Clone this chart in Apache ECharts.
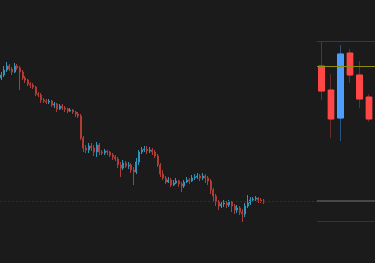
<!DOCTYPE html>
<html>
<head>
<meta charset="utf-8">
<script src="https://cdn.jsdelivr.net/npm/echarts@6/dist/echarts.min.js"></script>
<style>
html,body{margin:0;padding:0;background:#1b1b1b;}
#chart{width:375px;height:263px;}
</style>
</head>
<body>
<div id="chart"></div>
<script>
// Left overview candles: [open, close, lowest, highest]
var leftOHLC = [
[222,225,220,228],[225,230,223,234],[230,234,228,238],[234,231,229,236],[231,228,225,233],
[228,234,227,237],[234,232,230,236],[232,228,210,234],[228,222,220,230],[222,220,217,224],
[220,216,214,221],[216,215,212,218],[215,213,211,217],[213,206,204,214],[206,205,203,208],
[205,200,197,207],[200,199,197,202],[199,198,196,201],[198,199,196,201],[199,195,193,200],
[195,196,192,198],[196,191,188,197],[191,194,190,196],[194,192,190,196],[192,191,188,194],
[191,189,187,192],[189,190,188,192],[190,188,186,191],[188,186,183,189],[186,184,182,188],
[184,162,160,186],[162,152,148,164],[152,150,147,155],[150,154,147,157],[154,152,149,157],
[152,148,144,155],[148,155,143,158],[155,148,145,157],[148,147,145,150],[147,149,145,151],
[149,148,145,150],[148,145,143,149],[145,143,140,147],[143,141,139,145],[141,135,132,143],
[135,132,123,138],[132,137,130,140],[137,134,132,139],[134,135,131,138],[135,130,127,137],
[130,128,115,133],[128,138,126,142],[138,148,135,150],[148,150,146,153],[150,151,148,154],
[151,149,146,154],[149,150,147,153],[150,148,145,152],[148,144,142,150],[144,135,133,146],
[135,126,123,137],[126,122,120,130],[122,118,116,124],[118,120,117,123],[120,115,113,122],
[115,117,114,120],[117,119,116,122],[119,116,113,120],[116,114,108,118],[114,118,112,120],
[118,120,117,123],[120,119,116,122],[119,122,118,125],[122,123,120,126],[123,124,121,127],
[124,122,119,126],[122,124,120,127],[124,122,117,126],[122,119,115,124],[119,110,106,121],
[110,104,98,112],[104,98,94,106],[98,94,90,100],[94,96,92,99],[96,97,93,100],
[97,95,92,99],[95,98,93,100],[98,94,88,99],[94,90,86,96],[90,92,87,95],
[92,88,85,94],[88,86,78,91],[86,94,83,97],[94,97,92,105],[97,100,95,103],
[100,101,98,103],[101,102,99,104],[102,100,97,103],[100,99,97,102],[99,98,96,101]
];
var leftSlots = 120;
var leftRefLevel = 99;

// Right zoomed candles: [open, close, lowest, highest]
var rightOHLC = [
[97.5,95.0,94.1,100.0],
[95.1,92.2,90.3,96.7],
[92.3,98.7,90.0,99.6],
[98.8,96.6,95.8,99.2],
[96.6,94.2,93.3,98.0],
[94.4,92.2,91.9,94.7],
[92.1,87.6,86.5,92.2]
];
var rightTopLevel = 100;
var rightLastPrice = 97.5;
var rightLevelA = 84;
var rightLevelB = 82;

var leftCats = [];
for (var i = 0; i < leftSlots; i++) leftCats.push(i);
var rightCats = rightOHLC.map(function(d, i){ return i; });
var rightBodies = rightOHLC.map(function(d){ return [d[0], d[1], Math.min(d[0], d[1]), Math.max(d[0], d[1])]; });

var chart = echarts.init(document.getElementById('chart'), null, {renderer:'canvas'});
chart.setOption({
  backgroundColor: '#1b1b1b',
  animation: false,
  grid: [
    {left: 0, top: 0, width: 318, height: 263, outerBoundsMode: 'none', containLabel: false},
    {left: 317, top: 41, right: -8, height: 180, outerBoundsMode: 'none', containLabel: false}
  ],
  xAxis: [
    {type:'category', gridIndex:0, data:leftCats, show:false, boundaryGap:true},
    {type:'category', gridIndex:1, data:rightCats, show:false, boundaryGap:true}
  ],
  yAxis: [
    {type:'value', gridIndex:0, min:37, max:300, show:false, splitLine:{show:false}},
    {type:'value', gridIndex:1, min:82, max:100, show:false, splitLine:{show:false}}
  ],
  series: [
    {
      type:'candlestick', xAxisIndex:0, yAxisIndex:0, data:leftOHLC,
      barWidth: 1.5,
      itemStyle:{color:'#2e94ba', color0:'#b03c38', borderColor:'#2e94ba', borderColor0:'#b03c38', borderWidth:1},
      markLine:{silent:true, symbol:'none', label:{show:false},
        lineStyle:{color:'#303030', type:[2,2], width:1},
        data:[{yAxis:leftRefLevel}]}
    },
    {
      type:'candlestick', xAxisIndex:1, yAxisIndex:1, data:rightOHLC,
      barWidth: 7,
      itemStyle:{color:'#2b5380', color0:'#6b2b2b', borderColor:'#2b5380', borderColor0:'#6b2b2b', borderWidth:1},
      markLine:{silent:true, symbol:'none', label:{show:false},
        data:[
          {yAxis:rightTopLevel, lineStyle:{color:'#3a3a3a', width:1, type:'solid'}},
          {yAxis:rightLastPrice, lineStyle:{color:'#8c8c14', width:1, type:'solid'}},
          {yAxis:rightLevelA, lineStyle:{color:'#484848', width:2, type:'solid'}},
          {yAxis:rightLevelB, lineStyle:{color:'#343434', width:1, type:'solid'}}
        ]}
    },
    {
      type:'candlestick', xAxisIndex:1, yAxisIndex:1, data:rightBodies,
      barWidth: 6,
      itemStyle:{color:'#4b9dff', color0:'#ff4747', borderColor:'#4b9dff', borderColor0:'#ff4747', borderWidth:1}
    }
  ]
});
</script>
</body>
</html>
